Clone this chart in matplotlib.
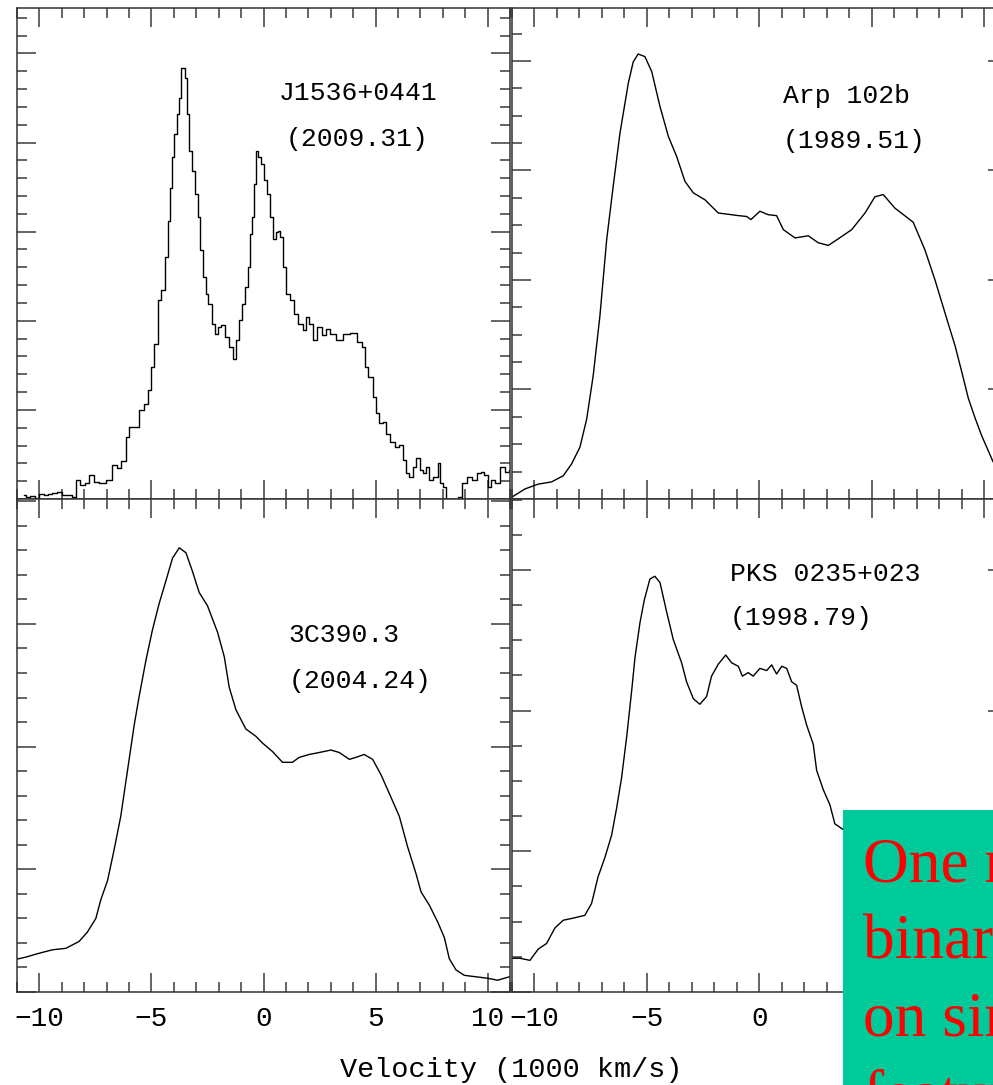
import matplotlib
matplotlib.use('Agg')
import matplotlib.pyplot as plt
from matplotlib.ticker import MultipleLocator
from matplotlib.patches import Rectangle

plt.rcParams['font.family'] = ['Liberation Mono', 'DejaVu Sans Mono']

# velocity in 1000 km/s, flux in arbitrary units

# J1536+0441 (2009.31), noisy spectrum -> drawn as steps
v_j1536 = [-10.70, -10.50, -10.30, -10.10, -9.90, -9.70, -9.55, -9.35, -9.11, -8.90,
           -8.66, -8.44, -8.29, -8.06, -7.90, -7.69, -7.47, -7.17, -6.87, -6.65,
           -6.43, -6.25, -6.05, -5.91, -5.61, -5.46, -5.24, -5.09, -4.94, -4.79,
           -4.64, -4.49, -4.34, -4.20, -4.12, -4.02, -3.93, -3.78, -3.72, -3.67,
           -3.53, -3.45, -3.38, -3.27, -3.13, -3.00, -2.88, -2.78, -2.63, -2.53,
           -2.38, -2.26, -2.11, -1.96, -1.79, -1.67, -1.44, -1.29, -1.14, -1.04,
           -0.92, -0.77, -0.65, -0.55, -0.45, -0.36, -0.29, -0.18, -0.03, 0.10,
           0.22, 0.40, 0.48, 0.62, 0.70, 0.80, 0.92, 1.07, 1.29, 1.45,
           1.67, 1.82, 1.96, 2.12, 2.26, 2.49, 2.71, 2.86, 3.08, 3.38,
           3.68, 4.05, 4.27, 4.50, 4.57, 4.79, 4.94, 5.09, 5.24, 5.43,
           5.54, 5.76, 5.98, 6.13, 6.28, 6.43, 6.58, 6.73, 6.92, 7.03,
           7.17, 7.32, 7.47, 7.70, 7.84, 7.92, 8.07, 8.20, 8.40, 8.60,
           8.74, 8.96, 9.18, 9.41, 9.63, 9.78, 9.93, 10.08, 10.22, 10.45,
           10.67, 10.89, 11.00]
f_j1536 = [0.010, 0.004, 0.006, 0.002, 0.012, 0.008, 0.012, 0.014, 0.015, 0.010,
           0.009, 0.005, 0.043, 0.031, 0.036, 0.054, 0.039, 0.035, 0.043, 0.076,
           0.069, 0.085, 0.140, 0.162, 0.162, 0.199, 0.214, 0.244, 0.296, 0.349,
           0.446, 0.468, 0.543, 0.625, 0.699, 0.767, 0.819, 0.864, 0.901, 0.968,
           0.968, 0.946, 0.864, 0.782, 0.737, 0.685, 0.632, 0.558, 0.498, 0.461,
           0.438, 0.393, 0.371, 0.386, 0.390, 0.364, 0.341, 0.315, 0.356, 0.401,
           0.438, 0.475, 0.520, 0.595, 0.632, 0.707, 0.782, 0.767, 0.752, 0.715,
           0.685, 0.632, 0.584, 0.600, 0.602, 0.587, 0.520, 0.461, 0.446, 0.416,
           0.393, 0.379, 0.408, 0.393, 0.356, 0.386, 0.367, 0.382, 0.371, 0.356,
           0.371, 0.373, 0.352, 0.341, 0.296, 0.274, 0.229, 0.192, 0.170, 0.173,
           0.147, 0.128, 0.117, 0.121, 0.087, 0.058, 0.050, 0.072, 0.091, 0.065,
           0.058, 0.072, 0.043, 0.050, 0.080, 0.035, 0.028, -0.010, -0.020, -0.015,
           0.005, 0.035, 0.050, 0.043, 0.058, 0.061, 0.054, 0.028, 0.043, 0.035,
           0.072, 0.061, 0.065]

# Arp 102b (1989.51)
v_arp = [-11.00, -10.41, -9.82, -9.23, -8.71, -8.34, -7.97, -7.67, -7.38, -7.08,
         -6.78, -6.49, -6.19, -5.82, -5.60, -5.38, -5.08, -4.78, -4.41, -4.04,
         -3.67, -3.30, -2.93, -2.41, -1.82, -0.93, -0.56, -0.37, 0.03, 0.40,
         0.77, 1.07, 1.59, 2.18, 2.62, 3.07, 3.51, 4.11, 4.70, 5.14,
         5.51, 6.03, 6.84, 7.36, 7.81, 8.40, 8.70, 9.00, 9.29, 9.59,
         9.88, 10.39, 10.80]
f_arp = [0.004, 0.023, 0.034, 0.039, 0.053, 0.080, 0.118, 0.182, 0.281, 0.418,
         0.592, 0.714, 0.835, 0.949, 0.998, 1.016, 1.010, 0.976, 0.896, 0.828,
         0.782, 0.725, 0.699, 0.683, 0.653, 0.647, 0.645, 0.638, 0.657, 0.649,
         0.647, 0.615, 0.596, 0.601, 0.585, 0.579, 0.594, 0.615, 0.653, 0.690,
         0.695, 0.664, 0.632, 0.569, 0.500, 0.400, 0.350, 0.290, 0.230, 0.185,
         0.145, 0.085, 0.060]

# 3C390.3 (2004.24)
v_3c390 = [-11.00, -10.61, -10.09, -9.42, -8.82, -8.23, -7.86, -7.48, -7.26, -6.96,
           -6.67, -6.37, -6.07, -5.77, -5.55, -5.25, -4.96, -4.66, -4.36, -4.06,
           -3.76, -3.46, -3.17, -2.87, -2.50, -2.05, -1.75, -1.53, -1.23, -0.79,
           -0.34, -0.04, 0.40, 0.85, 1.29, 1.59, 2.04, 2.49, 3.01, 3.38,
           3.83, 4.12, 4.49, 4.87, 5.24, 5.61, 6.06, 6.43, 6.80, 7.03,
           7.40, 7.78, 8.07, 8.29, 8.59, 8.96, 9.48, 10.00, 10.45, 10.97]
f_3c390 = [0.067, 0.071, 0.078, 0.086, 0.089, 0.103, 0.122, 0.150, 0.188, 0.227,
           0.289, 0.358, 0.451, 0.544, 0.602, 0.675, 0.737, 0.791, 0.837, 0.884,
           0.905, 0.895, 0.857, 0.814, 0.787, 0.733, 0.683, 0.621, 0.575, 0.536,
           0.521, 0.507, 0.490, 0.468, 0.468, 0.478, 0.484, 0.488, 0.493, 0.488,
           0.474, 0.478, 0.484, 0.474, 0.443, 0.405, 0.358, 0.296, 0.242, 0.204,
           0.177, 0.142, 0.111, 0.068, 0.045, 0.034, 0.031, 0.028, 0.024, 0.031]

# PKS 0235+023 (1998.79)
v_pks = [-11.00, -10.64, -10.19, -9.82, -9.45, -9.08, -8.71, -8.27, -7.75, -7.45,
         -7.16, -6.86, -6.56, -6.34, -6.12, -5.89, -5.67, -5.52, -5.30, -5.11,
         -4.86, -4.64, -4.41, -4.12, -3.82, -3.45, -3.23, -2.93, -2.64, -2.34,
         -2.12, -1.82, -1.49, -1.23, -0.93, -0.75, -0.49, -0.27, 0.03, 0.33,
         0.55, 0.77, 1.00, 1.22, 1.44, 1.66, 1.88, 2.11, 2.40, 2.55,
         2.84, 3.14, 3.36, 3.73, 4.50, 6.00, 8.00, 11.00]
f_pks = [0.048, 0.048, 0.045, 0.061, 0.069, 0.091, 0.102, 0.105, 0.109, 0.126,
         0.164, 0.191, 0.223, 0.261, 0.304, 0.363, 0.428, 0.476, 0.525, 0.557,
         0.587, 0.591, 0.582, 0.541, 0.501, 0.468, 0.441, 0.417, 0.409, 0.420,
         0.449, 0.466, 0.479, 0.468, 0.463, 0.449, 0.454, 0.449, 0.460, 0.457,
         0.465, 0.452, 0.463, 0.460, 0.441, 0.436, 0.406, 0.379, 0.352, 0.315,
         0.288, 0.266, 0.239, 0.231, 0.190, 0.110, 0.060, 0.045]

W, H = 993, 1085
fig = plt.figure(figsize=(W / 100, H / 100), dpi=100)


def px_axes(x0, y0, x1, y1):
    # axes from pixel box (top-left origin)
    return fig.add_axes([x0 / W, 1 - y1 / H, (x1 - x0) / W, (y1 - y0) / H])


def style(ax, ytop, ymaj, ymin, labels):
    ax.set_xlim(-11, 11)
    ax.set_ylim(0, ytop)
    ax.xaxis.set_major_locator(MultipleLocator(5))
    ax.xaxis.set_minor_locator(MultipleLocator(1))
    ax.yaxis.set_major_locator(MultipleLocator(ymaj))
    ax.yaxis.set_minor_locator(MultipleLocator(ymin))
    ax.tick_params(which='both', direction='in', top=True, right=True,
                   color='#3a3a3a', width=1.1)
    ax.tick_params(which='major', length=14)
    ax.tick_params(which='minor', length=7)
    ax.tick_params(axis='y', labelleft=False)
    ax.tick_params(axis='x', labelbottom=labels, labelsize=20, pad=10)
    for s in ax.spines.values():
        s.set_linewidth(1.1)
        s.set_color('#333333')


ax1 = px_axes(17, 8, 510, 499)
ax2 = px_axes(511.7, 8, 1006.8, 499)
ax3 = px_axes(17, 499, 510, 992)
ax4 = px_axes(511.7, 499, 1006.8, 992)

style(ax1, 1.102, 0.2, 0.04, False)
style(ax2, 1.121, 0.25, 0.0625, False)
style(ax3, 1.0045, 0.25, 0.05, True)
style(ax4, 0.7008, 0.2, 0.05, True)

lw = 1.0
ax1.plot(v_j1536, f_j1536, color='black', lw=lw, drawstyle='steps-mid')
ax2.plot(v_arp, f_arp, color='black', lw=lw)
ax3.plot(v_3c390, f_3c390, color='black', lw=lw)
ax4.plot(v_pks, f_pks, color='black', lw=lw)

fs = 19
ax1.text(4.23, 0.896, 'J1536+0441', ha='center', va='baseline', fontsize=fs)
ax1.text(4.18, 0.793, '(2009.31)', ha='center', va='baseline', fontsize=fs)
ax2.text(1.05, 0.904, 'Arp 102b', ha='left', va='baseline', fontsize=fs)
ax2.text(1.05, 0.802, '(1989.51)', ha='left', va='baseline', fontsize=fs)
ax3.text(1.10, 0.713, '3C390.3', ha='left', va='baseline', fontsize=fs)
ax3.text(1.10, 0.619, '(2004.24)', ha='left', va='baseline', fontsize=fs)
ax4.text(-1.30, 0.584, 'PKS 0235+023', ha='left', va='baseline', fontsize=fs)
ax4.text(-1.30, 0.522, '(1998.79)', ha='left', va='baseline', fontsize=fs)

fig.text(511.5 / W, 1 - 1070 / H, 'Velocity (1000 km/s)', ha='center', va='center',
         fontsize=20.5)

# green note box, cut off by the right/bottom edge
box = Rectangle((843 / W, 0), (W - 843) / W + 0.01, (H - 810) / H,
                transform=fig.transFigure, facecolor='#00C99A', edgecolor='none',
                zorder=10)
fig.add_artist(box)
note = ['One more', 'binary candidate', 'on similar', 'features']
for i, line in enumerate(note):
    fig.text(863 / W, 1 - (881 + 77.5 * i) / H, line, color='red', fontsize=45.5,
             family=['Liberation Serif', 'DejaVu Serif'], va='baseline', zorder=11)

fig.savefig('out.png', dpi=100)
